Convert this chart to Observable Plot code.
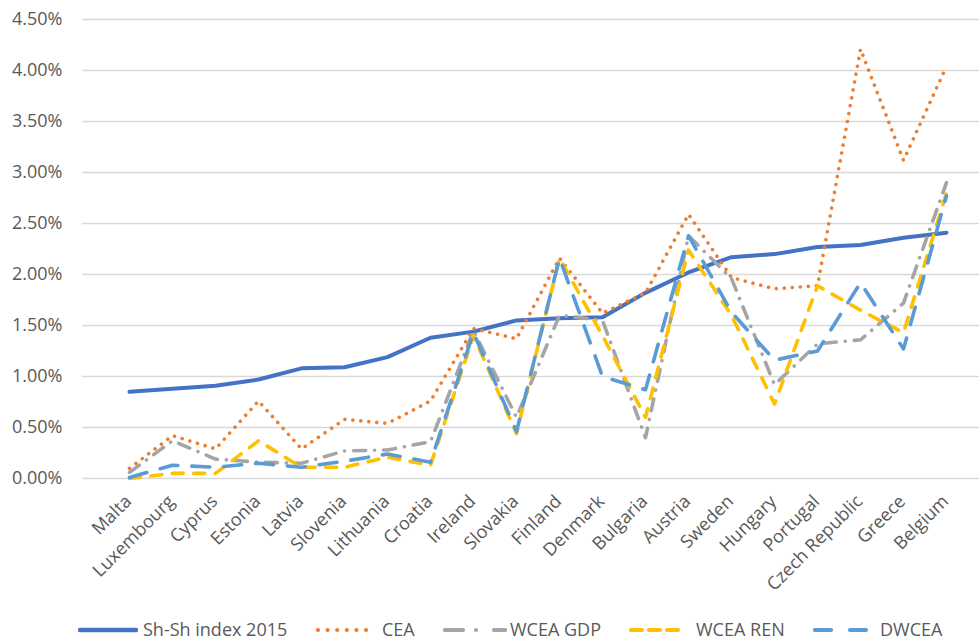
<!DOCTYPE html>
<html>
<head>
<meta charset="utf-8">
<script src="https://cdn.jsdelivr.net/npm/d3@7"></script>
<script src="https://cdn.jsdelivr.net/npm/@observablehq/plot@0.6"></script>
<style>
  body { margin: 0; background: #fff; font-family: "Open Sans", sans-serif; }
  #legend { position: relative; height: 32px; width: 979px; font-size: 18px; color: #595959; }
  #legend .sw { position: absolute; top: 15px; }
  #legend .lb { position: absolute; top: 6px; line-height: 22px; white-space: nowrap; }
</style>
</head>
<body>
<div id="chart"></div>
<div id="legend"></div>
<script>
const countries = ["Malta","Luxembourg","Cyprus","Estonia","Latvia","Slovenia","Lithuania","Croatia","Ireland","Slovakia","Finland","Denmark","Bulgaria","Austria","Sweden","Hungary","Portugal","Czech Republic","Greece","Belgium"];
const shsh    = [0.85,0.88,0.91,0.97,1.08,1.09,1.19,1.38,1.44,1.55,1.57,1.58,1.82,2.02,2.17,2.20,2.27,2.29,2.36,2.41];
const cea     = [0.10,0.42,0.29,0.76,0.29,0.58,0.54,0.76,1.47,1.37,2.16,1.62,1.82,2.59,1.97,1.86,1.89,4.21,3.12,4.04];
const wceaGdp = [0.06,0.37,0.19,0.16,0.15,0.27,0.28,0.36,1.45,0.60,1.60,1.55,0.40,2.38,1.96,0.92,1.32,1.36,1.72,2.90];
const wceaRen = [0.00,0.05,0.05,0.37,0.11,0.11,0.21,0.13,1.40,0.44,2.16,1.40,0.60,2.24,1.60,0.73,1.89,1.65,1.43,2.80];
const dwcea   = [0.01,0.13,0.11,0.15,0.11,0.17,0.24,0.16,1.43,0.46,2.16,1.00,0.87,2.38,1.63,1.16,1.25,1.92,1.27,2.77];
const yTicks  = [0,0.5,1,1.5,2,2.5,3,3.5,4,4.5];
const seriesNames = ["Sh-Sh index 2015","CEA","WCEA GDP","WCEA REN","DWCEA"];

const styles = [
  {stroke: "#4472C4", width: 4,   dash: null,          legendDash: null,              swLeft: 78,  swW: 60, lbLeft: 143},
  {stroke: "#ED7D31", width: 3.6, dash: "0.01 8",      legendDash: "0.01 9.6",        swLeft: 316, swW: 54, lbLeft: 382},
  {stroke: "#A5A5A5", width: 3.6, dash: "12 9 0.01 9", legendDash: "18 13 0.01 18",   swLeft: 443, swW: 64, lbLeft: 510},
  {stroke: "#FFC000", width: 3.6, dash: "11 10.5",     legendDash: "11 7",            swLeft: 629, swW: 56, lbLeft: 696},
  {stroke: "#5B9BD5", width: 3.6, dash: "18 14",       legendDash: "16 19",           swLeft: 813, swW: 57, lbLeft: 880}
];
const seriesValues = [shsh, cea, wceaGdp, wceaRen, dwcea];

const rows = vals => countries.map((c, i) => ({country: c, value: vals[i]}));

const chart = Plot.plot({
  width: 979,
  height: 612,
  marginLeft: 82,
  marginRight: 0,
  marginTop: 19,
  marginBottom: 134,
  style: {fontFamily: "Open Sans, sans-serif", fontSize: "18px", color: "#595959", background: "#fff"},
  x: {type: "point", domain: countries, range: [105, 969], axis: null},
  y: {domain: [0, 4.5], axis: null},
  marks: [
    Plot.ruleY(yTicks, {stroke: "#d9d9d9", strokeWidth: 1.3}),
    Plot.text(yTicks, {y: d => d, text: d => d.toFixed(2) + "%", frameAnchor: "left", textAnchor: "end", dx: -20, fill: "#595959"}),
    Plot.text(countries, {x: d => d, text: d => d, frameAnchor: "bottom", rotate: -45, textAnchor: "end", dx: 3, dy: 24, fill: "#595959"}),
    ...seriesValues.map((vals, k) => Plot.line(rows(vals), {
      x: "country", y: "value", stroke: styles[k].stroke, strokeWidth: styles[k].width,
      strokeDasharray: styles[k].dash, strokeLinecap: "round", strokeLinejoin: "round"
    }))
  ]
});
document.getElementById("chart").appendChild(chart);

const legend = document.getElementById("legend");
seriesNames.forEach((name, k) => {
  const s = styles[k];
  const sw = document.createElement("div");
  sw.className = "sw";
  sw.style.left = s.swLeft + "px";
  sw.innerHTML = `<svg width="${s.swW}" height="6" style="display:block"><line x1="2" y1="3" x2="${s.swW - 2}" y2="3" stroke="${s.stroke}" stroke-width="${s.width + 0.6}" stroke-linecap="round" ${s.legendDash ? `stroke-dasharray="${s.legendDash}"` : ""}/></svg>`;
  legend.appendChild(sw);
  const lb = document.createElement("div");
  lb.className = "lb";
  lb.style.left = s.lbLeft + "px";
  lb.textContent = name;
  legend.appendChild(lb);
});
</script>
</body>
</html>
